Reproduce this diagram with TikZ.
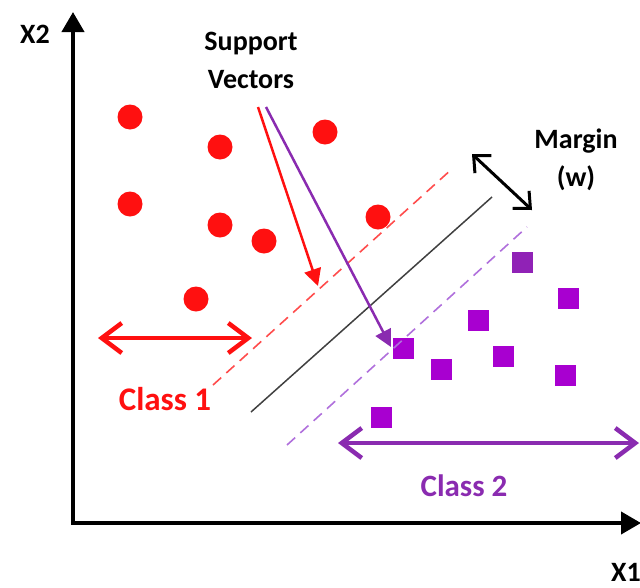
\documentclass[tikz,border=0pt]{standalone}
\usepackage{fontspec}
\setmainfont{Carlito}
\usetikzlibrary{arrows.meta}
\definecolor{cred}{HTML}{FF1010}
\definecolor{cpur}{HTML}{8A2BB0}
\definecolor{csq}{HTML}{A800D0}
\definecolor{cpdash}{HTML}{B070DC}
\definecolor{cline}{HTML}{404040}
\tikzset{
  dot/.style={circle,fill=cred,minimum size=25pt,inner sep=0pt},
  sq/.style={rectangle,fill=csq,minimum size=21pt,inner sep=0pt},
  lbl/.style={font=\bfseries\fontsize{28}{32}\selectfont,inner sep=0pt,align=center},
  axis/.style={line width=4pt,-{Triangle[length=20pt,width=22pt]}},
  barb/.style={{Straight Barb[length=20pt,width=30pt,line width=4.5pt]}-{Straight Barb[length=20pt,width=30pt,line width=4.5pt]},line width=4.5pt},
  ptr/.style={line width=2.5pt,-{Triangle[length=17pt,width=17pt]}},
  sep/.style={line width=1.6pt,dash pattern=on 11pt off 7pt}
}
\begin{document}
\begin{tikzpicture}[x=1pt,y=-1pt]
\useasboundingbox (0,0) rectangle (640,587);
% axes
\coordinate (O) at (73,523);
\coordinate (ytip) at (73,12);
\coordinate (xtip) at (641,523);
\draw[axis] (O) -- (ytip);
\draw[axis] ([xshift=-2pt]O) -- (xtip);
\node[lbl] (x2) at (35,34) {X2};
\node[lbl] (x1) at (626,572) {X1};
% labels
\node[lbl] (sv) at (251,60) {Support\\[6pt]Vectors};
\node[lbl] (mg) at (576,160) {Margin\\[6pt](w)};
\node[lbl,text=cred,font=\bfseries\fontsize{33}{36}\selectfont] (c1) at (165,399) {Class 1};
\node[lbl,text=cpur,font=\bfseries\fontsize{31}{34}\selectfont] (c2) at (464,486) {Class 2};
% red dots
\node[dot] (r1) at (130,117) {};
\node[dot] (r2) at (220,147) {};
\node[dot] (r3) at (325,132) {};
\node[dot] (r4) at (130,204) {};
\node[dot] (r5) at (220,225) {};
\node[dot] (r6) at (264,241) {};
\node[dot] (r7) at (378,217) {};
\node[dot] (r8) at (196,299) {};
% purple squares
\node[sq,fill=cpur!80!csq] (p1) at (522,262) {};
\node[sq] (p2) at (568,298) {};
\node[sq] (p3) at (478,320) {};
\node[sq] (p4) at (403,348) {};
\node[sq] (p5) at (441,369) {};
\node[sq] (p6) at (503,356) {};
\node[sq] (p7) at (565,375) {};
\node[sq] (p8) at (381,417) {};
% separating lines
\coordinate (rd1) at (213,385); \coordinate (rd2) at (453,168);
\coordinate (bl1) at (251,412); \coordinate (bl2) at (492,197);
\coordinate (pd1) at (287,445); \coordinate (pd2) at (527,227);
\draw[sep,cred!75] (rd1) -- (rd2);
\draw[line width=1.5pt,cline] (bl1) -- (bl2);
\draw[sep,cpdash] (pd1) -- (pd2);
% margin arrow
\coordinate (m1) at (472,154); \coordinate (m2) at (532,210);
\draw[line width=3pt,{Straight Barb[length=13pt,width=24pt,line width=3pt]}-{Straight Barb[length=13pt,width=24pt,line width=3pt]}] (m1) -- (m2);
% support vector pointers
\coordinate (s1) at (258,107); \coordinate (s1e) at (318,286);
\coordinate (s2) at (266,107); \coordinate (s2e) at (391,347);
\draw[ptr,cred] (s1) -- (s1e);
\draw[ptr,cpur] (s2) -- (s2e);
% class extents
\coordinate (a1) at (98,338); \coordinate (a2) at (252,338);
\coordinate (b1) at (338,443); \coordinate (b2) at (639,443);
\draw[barb,cred] (a1) -- (a2);
\draw[barb,cpur] (b1) -- (b2);
\end{tikzpicture}
\end{document}
